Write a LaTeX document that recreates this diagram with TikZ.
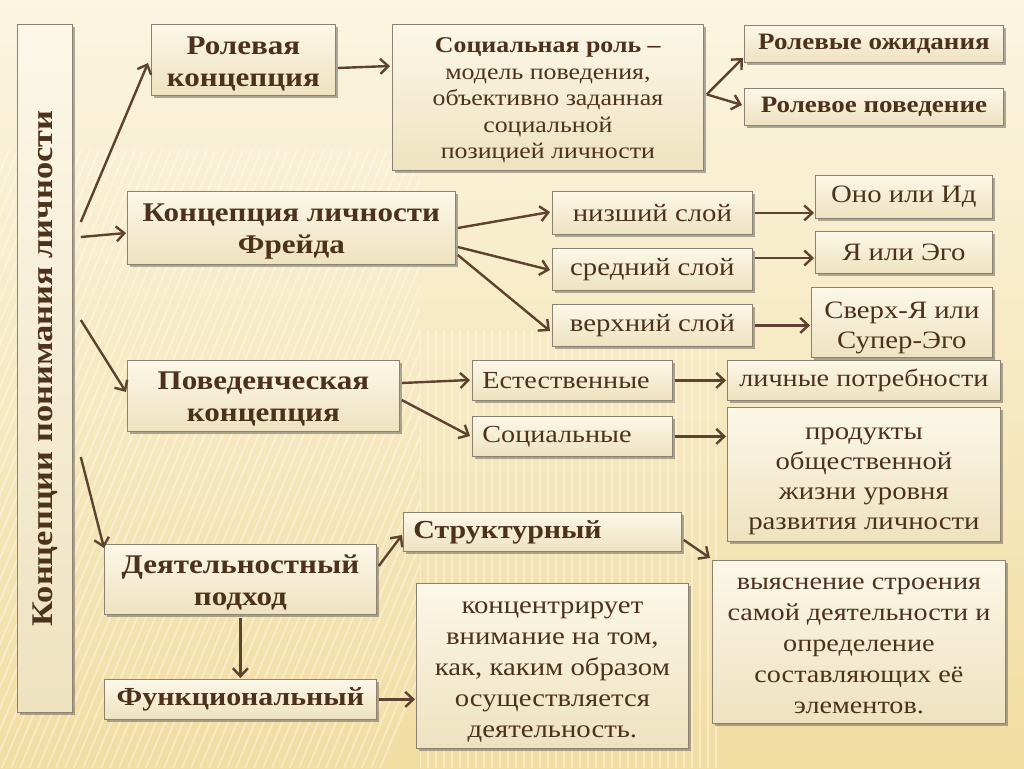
\documentclass[tikz,border=0pt]{standalone}
\usepackage{fontspec}
\setmainfont[FakeStretch=1.15]{Liberation Serif}
\usetikzlibrary{arrows.meta,shadows}
\definecolor{bgtop}{HTML}{FBF5E1}
\definecolor{bgbot}{HTML}{F2DDA2}
\definecolor{boxtop}{HTML}{FCF7E8}
\definecolor{boxbot}{HTML}{EEE2C0}
\definecolor{boxline}{HTML}{8C8272}
\definecolor{txt}{HTML}{4C321C}
\definecolor{arrc}{HTML}{5E4230}
\newcommand{\fsBig}{\fontsize{27}{32}\selectfont\bfseries}
\newcommand{\fsMid}{\fontsize{24.5}{28}\selectfont}
\newcommand{\fsReg}{\fontsize{25}{30}\selectfont}
\newcommand{\tp}[1]{\rule{0pt}{#1pt}}
\tikzset{
  bx/.style={draw=boxline, line width=0.8pt, top color=boxtop, bottom color=boxbot,
    drop shadow={shadow xshift=2.5pt, shadow yshift=-3pt, opacity=0.45, fill=black!70},
    text=txt, align=center, anchor=north west, inner sep=2pt},
  arr/.style={draw=arrc, line width=2.4pt, -{Straight Barb[length=8pt,width=15pt,line width=2.4pt]}},
  stripe/.style={white, line width=2pt, opacity=0.35},
}
\begin{document}
\begin{tikzpicture}[x=1pt,y=-1pt]
\shade[top color=bgtop, bottom color=bgbot] (0,0) rectangle (1024,768);
\useasboundingbox (0,0) rectangle (1024,768);
% faint background texture
\begin{scope}
  \clip (0,150) rectangle (420,768);
  \foreach \i in {0,...,70} {\draw[stripe] (\i*9-250,768) -- ++(260,-620);}
\end{scope}
\begin{scope}
  \clip (420,330) rectangle (720,768);
  \foreach \i in {0,...,37} {\draw[stripe] (420+\i*8,330) -- ++(0,438);}
\end{scope}
% title column
\node[bx, minimum width=55pt, minimum height=688pt] (ttl) at (17,24) {};
\node[text=txt, rotate=90, font=\fontsize{30}{34}\selectfont\bfseries] at (ttl.center) {Концепции понимания личности};
% row 1
\node[bx, minimum width=184pt, minimum height=71pt, font=\fsBig] (rol) at (151,24) {\tp{26}Ролевая\\концепция};
\node[bx, minimum width=311pt, minimum height=146pt, font=\fontsize{22.5}{26.5}\selectfont] (soc) at (392,24)
  {\tp{21}\textbf{Социальная роль –}\\модель поведения,\\объективно заданная\\социальной\\позицией личности};
\node[bx, minimum width=259pt, minimum height=37pt, font=\fontsize{23.5}{26}\selectfont\bfseries] (ozh) at (744,25) {Ролевые ожидания};
\node[bx, minimum width=259pt, minimum height=37pt, font=\fontsize{23.5}{26}\selectfont\bfseries] (ppv) at (744,88) {Ролевое поведение};
% row 2 (Freud)
\node[bx, minimum width=328pt, minimum height=73pt, font=\fsBig] (frd) at (127,191) {\tp{24}Концепция личности\\Фрейда};
\node[bx, minimum width=200pt, minimum height=43pt, font=\fsReg] (niz) at (552,191) {низший слой};
\node[bx, minimum width=200pt, minimum height=42pt, font=\fsReg] (sre) at (552,248) {средний слой};
\node[bx, minimum width=200pt, minimum height=42pt, font=\fsReg] (ver) at (552,304) {верхний слой};
\node[bx, minimum width=177pt, minimum height=43pt, font=\fsReg] (ono) at (815,175) {Оно или Ид};
\node[bx, minimum width=177pt, minimum height=42pt, font=\fsReg] (ego) at (815,231) {Я или Эго};
\node[bx, minimum width=181pt, minimum height=70pt, font=\fsReg] (sup) at (811,287) {\tp{28.5}Сверх-Я или\\Супер-Эго};
% row 3 (behavioural)
\node[bx, minimum width=272pt, minimum height=71pt, font=\fsBig] (pov) at (127,360) {\tp{24}Поведенческая\\концепция};
\node[bx, minimum width=199pt, minimum height=40pt, font=\fsMid, text width=180pt, align=left, inner xsep=10pt] (est) at (472,360) {Естественные};
\node[bx, minimum width=199pt, minimum height=40pt, font=\fsMid, text width=180pt, align=left, inner xsep=10pt] (scl) at (472,416) {Социальные};
\node[bx, minimum width=273pt, minimum height=40pt, font=\fsMid] (lich) at (727,360) {личные потребности};
\node[bx, minimum width=273pt, minimum height=134pt, font=\fsReg] (prod) at (727,407)
  {\tp{25.5}продукты\\общественной\\жизни уровня\\развития личности};
% row 4 (activity)
\node[bx, minimum width=272pt, minimum height=70pt, font=\fsBig] (dey) at (104,544) {\tp{24}Деятельностный\\подход};
\node[bx, minimum width=277pt, minimum height=39pt, font=\fontsize{26}{28}\selectfont\bfseries, text width=258pt, align=left, inner xsep=10pt] (str) at (403,512) {Структурный};
\node[bx, minimum width=293pt, minimum height=163pt, font=\fontsize{24.5}{31}\selectfont] (vyy) at (712,560)
  {\tp{19.5}выяснение строения\\самой деятельности и\\определение\\составляющих её\\элементов.};
\node[bx, minimum width=272pt, minimum height=165pt, font=\fontsize{25}{31}\selectfont] (konc) at (416,583)
  {\tp{24.5}концентрирует\\внимание на том,\\как, каким образом\\осуществляется\\деятельность.};
\node[bx, minimum width=272pt, minimum height=40pt, font=\fontsize{26}{28}\selectfont\bfseries] (fun) at (104,679) {Функциональный};
% connectors
\draw[arr] ([shift={(8,198)}]ttl.north east) -- ([shift={(-3,39)}]rol.north west);
\draw[arr] ([shift={(8,213)}]ttl.north east) -- ([shift={(-1,42)}]frd.north west);
\draw[arr] ([shift={(8,296)}]ttl.north east) -- ([shift={(-1,32)}]pov.north west);
\draw[arr] ([shift={(8,433)}]ttl.north east) -- ([shift={(0,4)}]dey.north west);
\draw[arr] ([shift={(2,44)}]rol.north east) -- ([shift={(-2,42)}]soc.north west);
\draw[arr] ([shift={(3,-3)}]soc.east) -- ([shift={(-1,33)}]ozh.north west);
\draw[arr] ([shift={(3,-3)}]soc.east) -- ([shift={(-2,17)}]ppv.north west);
\draw[arr] ([shift={(2,37)}]frd.north east) -- ([shift={(-2,21)}]niz.north west);
\draw[arr] ([shift={(2,56)}]frd.north east) -- ([shift={(-2,22)}]sre.north west);
\draw[arr] ([shift={(2,64)}]frd.north east) -- ([shift={(-2,27)}]ver.north west);
\draw[arr] ([xshift=2pt]niz.east) -- ([xshift=-1pt]niz.east -| ono.west);
\draw[arr] ([shift={(2,10)}]sre.north east) -- ([shift={(-1,10)}]sre.north east -| ego.west);
\draw[arr] ([xshift=2pt]ver.east) -- ([xshift=-1pt]ver.east -| sup.west);
\draw[arr] ([shift={(2,23)}]pov.north east) -- ([shift={(-2,20)}]est.north west);
\draw[arr] ([shift={(2,40)}]pov.north east) -- ([shift={(-2,20)}]scl.north west);
\draw[arr] ([xshift=2pt]est.east) -- ([xshift=-1pt]est.east -| lich.west);
\draw[arr] ([xshift=2pt]scl.east) -- ([xshift=-1pt]scl.east -| prod.west);
\draw[arr] ([shift={(2,22)}]dey.north east) -- ([shift={(-1,23)}]str.north west);
\draw[arr] ([shift={(2,28)}]str.north east) -- ([shift={(-2,-2)}]vyy.north west);
\draw[arr] ([yshift=-3pt]dey.south) -- ([yshift=1pt]fun.north);
\draw[arr] ([xshift=2pt]fun.east) -- ([xshift=-1pt]fun.east -| konc.west);
\end{tikzpicture}
\end{document}
